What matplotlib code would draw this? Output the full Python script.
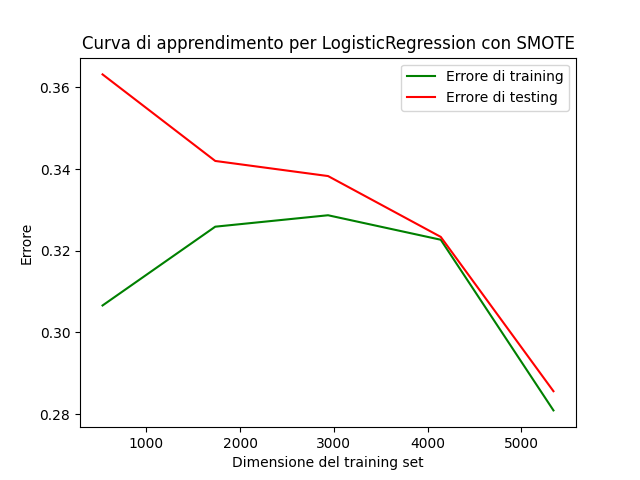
import matplotlib
matplotlib.use("Agg")
import matplotlib.pyplot as plt

# training set sizes (learning_curve style)
train_sizes = [534, 1736, 2939, 4141, 5343]

# error values
train_err = [0.3066, 0.3259, 0.3287, 0.3227, 0.2809]
test_err = [0.3632, 0.3420, 0.3383, 0.3234, 0.2856]

plt.figure(figsize=(6.4, 4.8), dpi=100)
plt.plot(train_sizes, train_err, color='green', label='Errore di training')
plt.plot(train_sizes, test_err, color='red', label='Errore di testing')
plt.title('Curva di apprendimento per LogisticRegression con SMOTE')
plt.xlabel('Dimensione del training set')
plt.ylabel('Errore')
plt.legend(loc='upper right')

plt.savefig('out.png')
plt.close()
